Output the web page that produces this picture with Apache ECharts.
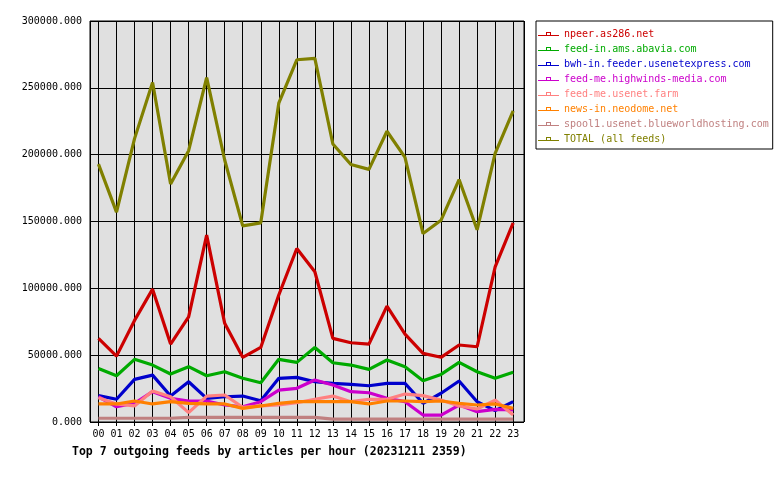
<!DOCTYPE html>
<html>
<head>
<meta charset="utf-8">
<script src="https://cdn.jsdelivr.net/npm/echarts@6/dist/echarts.min.js"></script>
<style>html,body{margin:0;padding:0;background:#fff;}#c{width:780px;height:480px;}</style>
</head>
<body>
<div id="c"></div>
<script>
const hours = ['00','01','02','03','04','05','06','07','08','09','10','11','12','13','14','15','16','17','18','19','20','21','22','23'];
const seriesNames = ['npeer.as286.net','feed-in.ams.abavia.com','bwh-in.feeder.usenetexpress.com','feed-me.highwinds-media.com','feed-me.usenet.farm','news-in.neodome.net','spool1.usenet.blueworldhosting.com','TOTAL (all feeds)'];
const seriesColors = ['#cc0000','#00aa00','#0000cc','#cc00cc','#ff8080','#ff8000','#c08080','#808000'];
const npeer = [62600,49300,76000,99400,58300,78700,139800,73800,48400,55800,95000,129800,112400,62600,59300,58300,86700,65800,51300,48400,57600,56300,116000,149000];
const feedInAms = [40100,34600,46900,42600,35900,41400,34600,37600,32700,29400,46900,44600,55800,44300,42600,39400,46400,41400,30900,35600,44600,37600,32700,37200];
const bwh = [19700,17000,31900,35100,19400,30100,17700,18900,19400,15900,32700,33400,30100,28900,28200,27100,28900,28900,14000,21500,30700,15200,8500,15200];
const highwinds = [18900,11400,14000,22700,17700,15700,15700,12700,11400,15200,23900,25200,31400,27700,22700,21900,17700,15200,5200,5200,12700,7700,9500,9000];
const usenetFarm = [18200,13500,12000,23200,18900,7000,19400,20200,11000,12000,12700,14400,17000,19400,15200,17000,17000,20900,19700,16400,12000,9700,16400,5200];
const neodome = [13500,13500,15700,13500,15200,14000,13500,13500,10200,12000,14000,15200,15200,15200,15200,13500,15700,15700,15200,15700,14000,12700,13500,10200];
const spool1 = [2800,2800,2800,2800,2800,3500,3500,3500,3500,3500,3500,3500,3500,2200,2200,2200,2200,2200,2200,2200,2200,2200,2200,2200];
const total = [192900,157000,212000,254000,178000,203000,257700,196000,146700,149000,238500,271000,272000,208000,192600,189000,217500,198000,141000,151000,181400,143800,201000,232700];
const yMin = 0, yMax = 300000, yStep = 50000;
const titleText = 'Top 7 outgoing feeds by articles per hour (20231211 2359)';

const allData = [npeer, feedInAms, bwh, highwinds, usenetFarm, neodome, spool1, total];
const mono = '"DejaVu Sans Mono", "Liberation Mono", monospace';

const chart = echarts.init(document.getElementById('c'), null, {renderer: 'canvas'});
chart.setOption({
  backgroundColor: '#ffffff',
  animation: false,
  title: {
    text: titleText, left: 72, top: 446, padding: 0,
    textStyle: {fontFamily: mono, fontSize: 11.5, fontWeight: 'bold', color: '#000'}
  },
  legend: {
    orient: 'vertical', left: 536, top: 21,
    borderColor: '#000', borderWidth: 1, padding: [7, 4, 4, 2],
    itemWidth: 21, itemHeight: 4, itemGap: 3,
    selectedMode: false,
    icon: 'path://M0,4H21V5H0Z M8,1H13V5H8Z M9,2V4H12V2Z',
    itemStyle: {borderWidth: 0},
    textStyle: {fontFamily: mono, fontSize: 10, lineHeight: 12},
    data: seriesNames.map((n, i) => ({name: n, textStyle: {color: seriesColors[i]}}))
  },
  grid: {
    left: 90, top: 21, width: 434, height: 401,
    show: true, backgroundColor: '#e0e0e0', borderColor: '#000', borderWidth: 1,
    containLabel: false
  },
  xAxis: {
    type: 'value', min: -0.47, max: 23.6, splitNumber: 24,
    axisLine: {show: false},
    axisTick: {show: true, length: 4, lineStyle: {color: '#000'}},
    splitLine: {show: true, lineStyle: {color: '#000', width: 1}},
    axisLabel: {
      margin: 7, fontFamily: mono, fontSize: 10, color: '#000',
      showMinLabel: false, showMaxLabel: false,
      formatter: v => (Number.isInteger(v) && hours[v] !== undefined) ? hours[v] : ''
    }
  },
  yAxis: {
    type: 'value', min: yMin, max: yMax, interval: yStep,
    axisLine: {show: false},
    axisTick: {show: true, length: 5, lineStyle: {color: '#000'}},
    splitLine: {show: true, lineStyle: {color: '#000', width: 1}},
    axisLabel: {
      margin: 8, fontFamily: mono, fontSize: 10, color: '#000',
      formatter: v => v.toFixed(3)
    }
  },
  series: seriesNames.map((n, i) => ({
    name: n, type: 'line',
    data: allData[i].map((v, k) => [k, v]),
    showSymbol: false, symbol: 'rect',
    color: seriesColors[i],
    lineStyle: {width: 3.2, color: seriesColors[i]},
    emphasis: {disabled: true}
  }))
});
</script>
</body>
</html>
